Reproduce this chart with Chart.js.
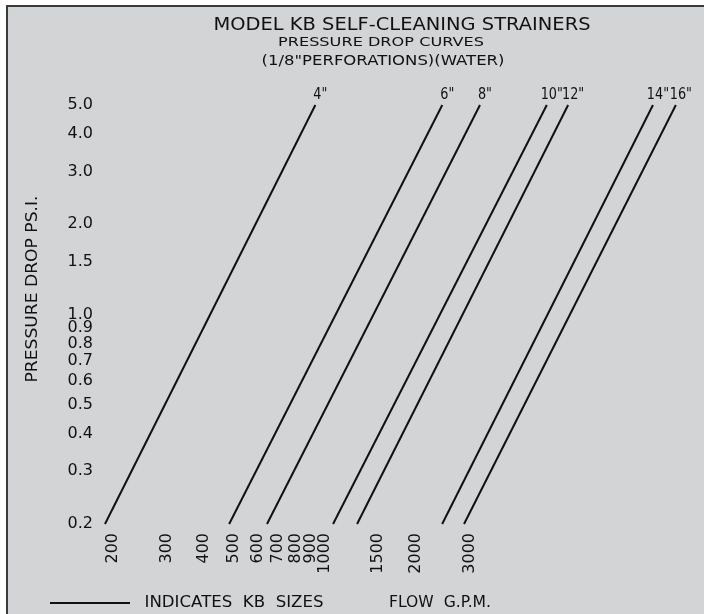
<!doctype html>
<html>
<head>
  <title>Model KB pressure drop curves</title>
  <script src="https://cdn.jsdelivr.net/npm/chart.js"></script>
  <style>
    body { margin: 0; background: #fff; }
  </style>
</head>
<body>
  <canvas id="canvas" width="704" height="614"></canvas>

  <script>
    // strainer sizes and the flow (GPM) where each line hits 0.2 and 5.0 psi
    var sizes = ['4"', '6"', '8"', '10"', '12"', '14"', '16"'];
    var dropEnds = [0.2, 5.0];
    var flowAtLow = [188, 483, 644, 1064, 1277, 2438, 2879];
    var flowAtHigh = [930, 2440, 3250, 5400, 6350, 12100, 14400];

    var flowTicks = [200, 300, 400, 500, 600, 700, 800, 900, 1000, 1500, 2000, 3000];
    var dropTicks = [0.2, 0.3, 0.4, 0.5, 0.6, 0.7, 0.8, 0.9, 1.0, 1.5, 2.0, 3.0, 4.0, 5.0];

    var ink = '#111';
    var paper = '#d3d4d6';
    var face = '"DejaVu Sans", sans-serif';

    // text squeezed/stretched to a given width, like the hand lettering
    function fitText(ctx, text, cx, cy, w, size, angle) {
      ctx.save();
      ctx.font = size + 'px ' + face;
      var m = ctx.measureText(text).width;
      if (w < 0) w = m * -w;  // negative w = scale factor
      ctx.translate(cx, cy);
      if (angle) ctx.rotate(angle);
      ctx.scale(w / m, 1);
      ctx.textAlign = 'center';
      ctx.textBaseline = 'middle';
      ctx.fillStyle = ink;
      ctx.fillText(text, 0, 0);
      ctx.restore();
    }

    var sheet = {
      id: 'sheet',
      beforeDraw: function(chart) {
        var c = chart.ctx;
        c.save();
        c.fillStyle = '#fff';
        c.fillRect(0, 0, chart.width, chart.height);
        c.fillStyle = paper;
        c.fillRect(7, 6, chart.width - 7, chart.height - 6);
        c.fillStyle = '#3a3a3a';
        c.fillRect(6, 5, chart.width - 6, 2);
        c.fillRect(6, 5, 2, chart.height - 5);
        c.restore();
      },
      afterDraw: function(chart) {
        var c = chart.ctx;
        fitText(c, 'MODEL KB SELF-CLEANING STRAINERS', 402, 26, 377, 17);
        fitText(c, 'PRESSURE DROP CURVES', 381, 43, 206, 13);
        fitText(c, '(1/8"PERFORATIONS)(WATER)', 383, 61, 243, 13.5);

        fitText(c, 'PRESSURE DROP PS.I.', 33, 289, 187, 15, -Math.PI / 2);

        // line labels at the top end of each curve
        sizes.forEach(function(s, i) {
          var top = chart.getDatasetMeta(i).data[1];
          fitText(c, s, top.x + 5, top.y - 10, -0.8, 16);
        });

        // key at the bottom
        c.save();
        c.strokeStyle = ink;
        c.lineWidth = 2;
        c.beginPath();
        c.moveTo(50, 603);
        c.lineTo(130, 603);
        c.stroke();
        c.restore();
        fitText(c, 'INDICATES  KB  SIZES', 234, 603, 179, 16);
        fitText(c, 'FLOW  G.P.M.', 440, 603, 102, 16);
      }
    };

    var datasets = sizes.map(function(s, i) {
      return {
        label: s,
        data: [
          { x: flowAtLow[i], y: dropEnds[0] },
          { x: flowAtHigh[i], y: dropEnds[1] }
        ],
        borderColor: ink,
        borderWidth: 2,
        pointRadius: 0,
        fill: false,
        clip: false
      };
    });

    var chart = new Chart('canvas', {
      type: 'line',
      data: { datasets: datasets },
      plugins: [sheet],
      options: {
        responsive: false,
        animation: false,
        layout: { padding: { top: 105, right: 4, left: 0, bottom: 0 } },
        plugins: {
          legend: { display: false },
          tooltip: { enabled: false }
        },
        scales: {
          x: {
            type: 'logarithmic',
            min: 181,
            max: 17300,
            grid: { display: false, drawTicks: false },
            border: { display: false },
            afterBuildTicks: function(s) {
              s.ticks = flowTicks.map(function(v) { return { value: v }; });
            },
            afterFit: function(s) { s.height = 90; },
            ticks: {
              autoSkip: false,
              minRotation: 90,
              maxRotation: 90,
              padding: 9,
              color: ink,
              font: { family: 'DejaVu Sans', size: 16 },
              callback: function(v) { return String(v); }
            }
          },
          y: {
            type: 'logarithmic',
            min: dropEnds[0],
            max: dropEnds[1],
            grid: { display: false, drawTicks: false },
            border: { display: false },
            afterBuildTicks: function(s) {
              s.ticks = dropTicks.map(function(v) { return { value: v }; });
            },
            afterFit: function(s) { s.width = 100; },
            ticks: {
              autoSkip: false,
              padding: 7,
              crossAlign: 'near',
              color: ink,
              font: { family: 'DejaVu Sans', size: 16 },
              callback: function(v) { return Number(v).toFixed(1); }
            }
          }
        }
      }
    });
  </script>
</body>
</html>
